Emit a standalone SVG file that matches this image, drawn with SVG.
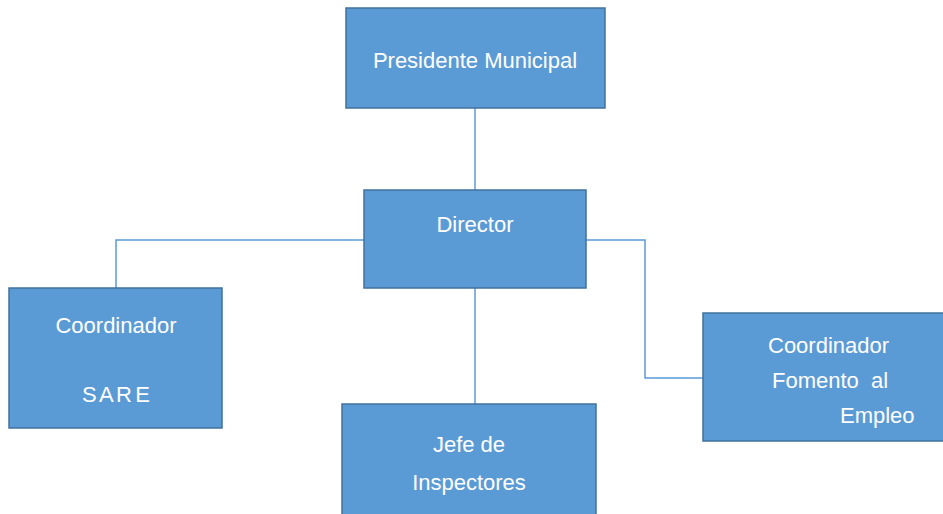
<svg xmlns="http://www.w3.org/2000/svg" width="943" height="514" viewBox="0 0 943 514">
<style>
.box{fill:#5B9BD5;stroke:#41719C;stroke-width:1.5}
.t{font-family:"Liberation Sans",Arial,sans-serif;font-size:22px;fill:#FFFFFF;text-anchor:middle}
.l{font-family:"Liberation Sans",Arial,sans-serif;font-size:22px;fill:#FFFFFF}
.c{fill:none;stroke:#5B9BD5;stroke-width:1.5}
</style>
<rect width="943" height="514" fill="#FFFFFF"/>
<g id="connectors">
<line class="c" x1="475" y1="108" x2="475" y2="190"/>
<polyline class="c" points="364,240 116,240 116,288"/>
<line class="c" x1="475" y1="288" x2="475" y2="404"/>
<polyline class="c" points="586,240 645,240 645,378 703,378"/>
</g>
<g id="presidente">
<rect class="box" x="346" y="8" width="259" height="100"/>
<text class="t" x="475" y="68">Presidente Municipal</text>
</g>
<g id="director">
<rect class="box" x="364" y="190" width="222" height="98"/>
<text class="t" x="475" y="232">Director</text>
</g>
<g id="coordinador-sare">
<rect class="box" x="9" y="288" width="213" height="140"/>
<text class="t" x="116" y="333">Coordinador</text>
<text class="t" x="116" y="402" textLength="68" lengthAdjust="spacing">S A R E</text>
</g>
<g id="jefe-inspectores">
<rect class="box" x="342" y="404" width="254" height="115"/>
<text class="t" x="469" y="452">Jefe de</text>
<text class="t" x="469" y="490">Inspectores</text>
</g>
<g id="coordinador-fomento">
<rect class="box" x="703" y="313" width="245" height="128"/>
<text class="l" x="768" y="353">Coordinador</text>
<text class="l" x="772" y="388" xml:space="preserve">Fomento  al</text>
<text class="l" x="840" y="423">Empleo</text>
</g>
</svg>
